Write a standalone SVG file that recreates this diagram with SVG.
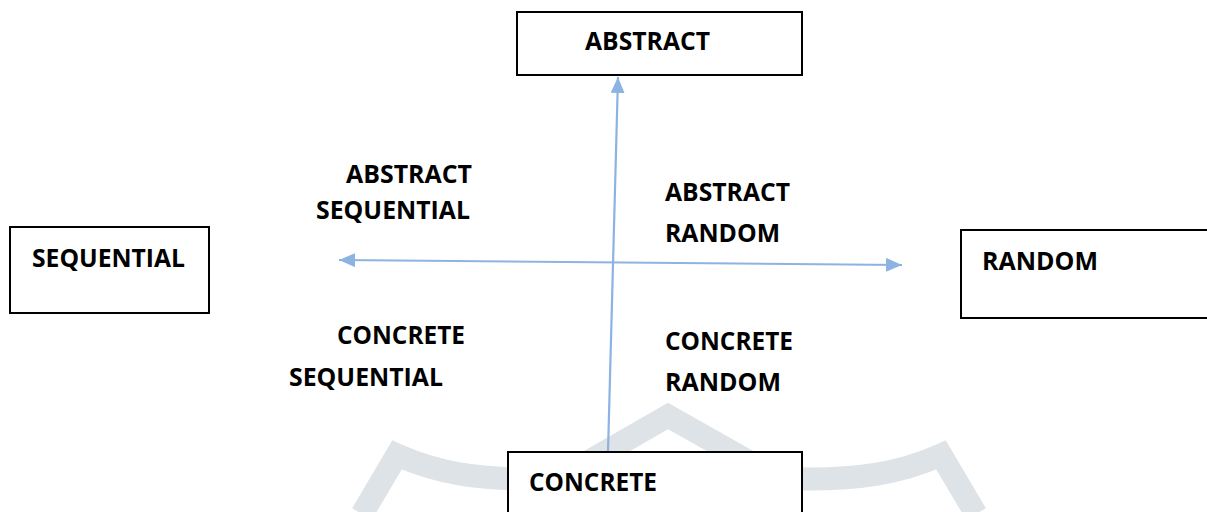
<svg xmlns="http://www.w3.org/2000/svg" width="1207" height="512" viewBox="0 0 1207 512">
  <defs>
    <style>
      .box { fill: #ffffff; stroke: #000000; stroke-width: 2; }
      .lbl { font-family: "Open Sans", Lato, "Liberation Sans", sans-serif; font-weight: 700; font-size: 25.5px; fill: #000000; }
      .conn { stroke: #8db3e2; stroke-width: 2.2; fill: none; }
      .wm { fill: none; stroke: #dde3e7; stroke-width: 23; stroke-linejoin: miter; stroke-miterlimit: 10; }
    </style>
    <marker id="arrow" viewBox="0 0 16 14" markerWidth="16" markerHeight="14" refX="16" refY="7" orient="auto-start-reverse" markerUnits="userSpaceOnUse">
      <path d="M0,0 L16,7 L0,14 z" fill="#8db3e2"/>
    </marker>
  </defs>
  <rect width="1207" height="512" fill="#ffffff"/>

  <g id="watermark">
    <path class="wm" d="M362,514 L397,455 C440,474 480,479 530,479 L560,478 L668,416 L778,478 L808,479 C858,479 898,474 941,455 L976,514"/>
  </g>

  <g id="connectors">
    <line class="conn" x1="608" y1="452" x2="618" y2="77" marker-end="url(#arrow)"/>
    <line class="conn" x1="339" y1="260" x2="902" y2="265" marker-start="url(#arrow)" marker-end="url(#arrow)"/>
  </g>

  <g id="node-abstract">
    <rect class="box" x="517" y="12" width="285" height="63"/>
    <text class="lbl" x="585" y="50" textLength="125" lengthAdjust="spacingAndGlyphs">ABSTRACT</text>
  </g>
  <g id="node-sequential">
    <rect class="box" x="10" y="227" width="199" height="86"/>
    <text class="lbl" x="32" y="267" textLength="153" lengthAdjust="spacingAndGlyphs">SEQUENTIAL</text>
  </g>
  <g id="node-random">
    <rect class="box" x="961" y="230" width="252" height="88"/>
    <text class="lbl" x="982" y="270" textLength="116" lengthAdjust="spacingAndGlyphs">RANDOM</text>
  </g>
  <g id="node-concrete">
    <rect class="box" x="508" y="452" width="294" height="70"/>
    <text class="lbl" x="529" y="491" textLength="128" lengthAdjust="spacingAndGlyphs">CONCRETE</text>
  </g>

  <g id="label-abstract-sequential">
    <text class="lbl" x="346" y="183" textLength="126" lengthAdjust="spacingAndGlyphs">ABSTRACT</text>
    <text class="lbl" x="316" y="219" textLength="154" lengthAdjust="spacingAndGlyphs">SEQUENTIAL</text>
  </g>
  <g id="label-abstract-random">
    <text class="lbl" x="665" y="201" textLength="125" lengthAdjust="spacingAndGlyphs">ABSTRACT</text>
    <text class="lbl" x="665" y="242" textLength="115" lengthAdjust="spacingAndGlyphs">RANDOM</text>
  </g>
  <g id="label-concrete-sequential">
    <text class="lbl" x="337" y="344" textLength="128" lengthAdjust="spacingAndGlyphs">CONCRETE</text>
    <text class="lbl" x="289" y="386" textLength="154" lengthAdjust="spacingAndGlyphs">SEQUENTIAL</text>
  </g>
  <g id="label-concrete-random">
    <text class="lbl" x="665" y="350" textLength="128" lengthAdjust="spacingAndGlyphs">CONCRETE</text>
    <text class="lbl" x="665" y="391" textLength="116" lengthAdjust="spacingAndGlyphs">RANDOM</text>
  </g>
</svg>
